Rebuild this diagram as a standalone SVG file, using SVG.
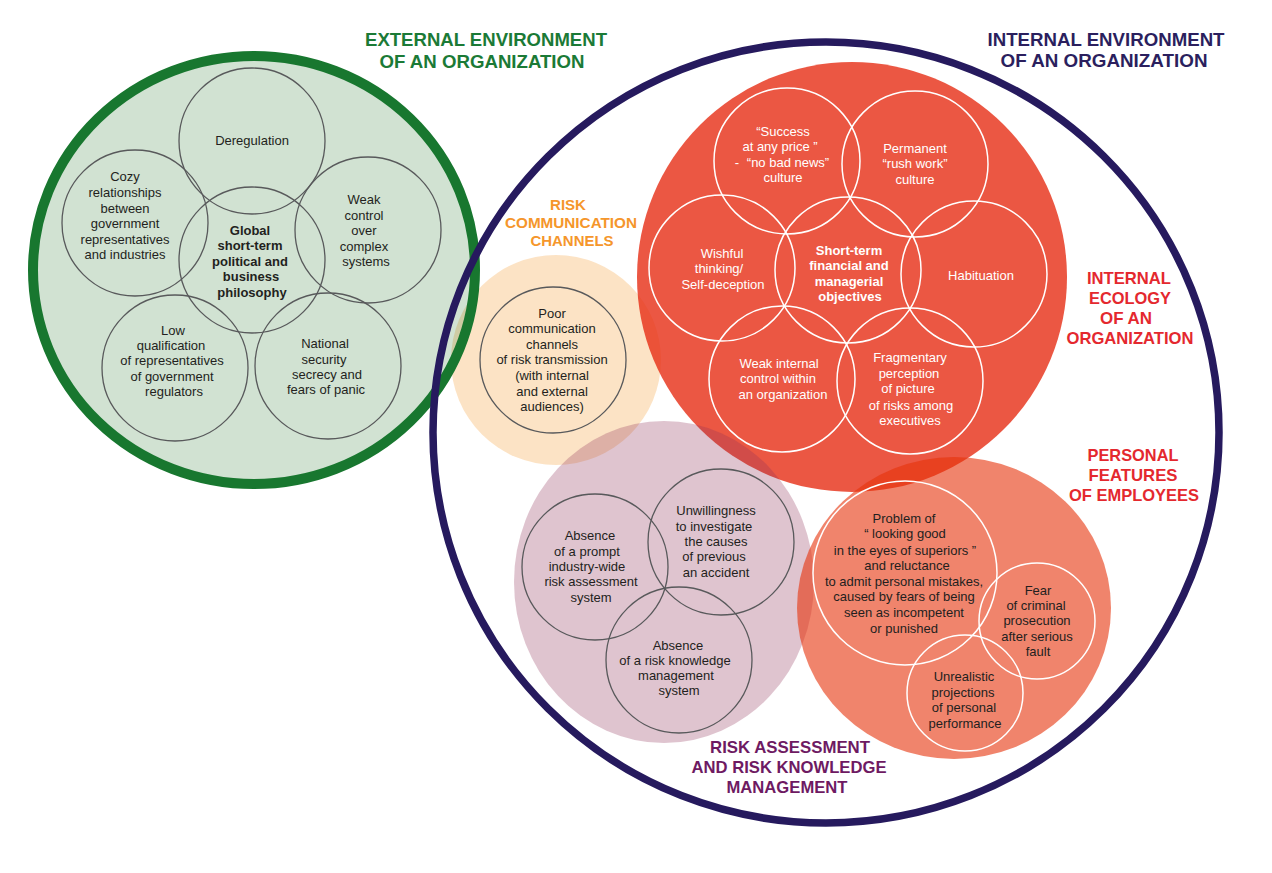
<svg xmlns="http://www.w3.org/2000/svg" width="1272" height="873" viewBox="0 0 1272 873">
<style>
.t{font-family:"Liberation Sans",Arial,Helvetica,sans-serif;font-size:13px;fill:#231f20;text-anchor:middle}
.w{fill:#ffffff}
.b{font-weight:bold}
.h{font-family:"Liberation Sans",Arial,Helvetica,sans-serif;font-weight:bold;text-anchor:middle}
.gc{fill:none;stroke:#58595b;stroke-width:1.3}
.wc{fill:none;stroke:#ffffff;stroke-width:1.5}
</style>
<rect width="1272" height="873" fill="#ffffff"/>

<!-- Risk communication channels -->
<g id="comm-region">
  <circle cx="556" cy="360" r="105" fill="#f39a2e" fill-opacity="0.28"/>
  <g id="poor-communication">
    <circle class="gc" cx="553" cy="360" r="73"/>
    <text class="t"><tspan x="552" y="317.5">Poor</tspan><tspan x="552" y="333">communication</tspan><tspan x="552" y="348.5">channels</tspan><tspan x="552" y="364">of risk transmission</tspan><tspan x="552" y="379.5">(with internal</tspan><tspan x="552" y="395.5">and external</tspan><tspan x="552" y="411">audiences)</tspan></text>
  </g>
</g>

<!-- External environment -->
<g id="external-region">
  <ellipse cx="254" cy="270" rx="221" ry="214" fill="#2e7d32" fill-opacity="0.22" stroke="#18772f" stroke-width="10"/>
  <g id="deregulation">
    <circle class="gc" cx="252" cy="141" r="73"/>
    <text class="t" x="252" y="145">Deregulation</text>
  </g>
  <g id="cozy">
    <circle class="gc" cx="135" cy="223" r="73"/>
    <text class="t"><tspan x="125" y="181">Cozy</tspan><tspan x="125" y="197">relationships</tspan><tspan x="125" y="213">between</tspan><tspan x="125" y="228">government</tspan><tspan x="125" y="244">representatives</tspan><tspan x="125" y="259">and industries</tspan></text>
  </g>
  <g id="weak-control">
    <circle class="gc" cx="368" cy="230" r="73"/>
    <text class="t"><tspan x="364" y="204">Weak</tspan><tspan x="364" y="220">control</tspan><tspan x="364" y="235">over</tspan><tspan x="364" y="251">complex</tspan><tspan x="366" y="266">systems</tspan></text>
  </g>
  <g id="global">
    <circle class="gc" cx="252" cy="260" r="73"/>
    <text class="t b"><tspan x="250" y="235">Global</tspan><tspan x="250" y="250">short-term</tspan><tspan x="250" y="266">political and</tspan><tspan x="251" y="281">business</tspan><tspan x="252" y="297">philosophy</tspan></text>
  </g>
  <g id="low-qualification">
    <circle class="gc" cx="175" cy="368" r="73"/>
    <text class="t"><tspan x="173" y="334.5">Low</tspan><tspan x="171" y="349.5">qualification</tspan><tspan x="172" y="364.5">of representatives</tspan><tspan x="172" y="380.5">of government</tspan><tspan x="174" y="395.5">regulators</tspan></text>
  </g>
  <g id="national-security">
    <circle class="gc" cx="328" cy="366" r="73"/>
    <text class="t"><tspan x="325" y="348">National</tspan><tspan x="324" y="363.5">security</tspan><tspan x="327" y="379">secrecy and</tspan><tspan x="326" y="394">fears of panic</tspan></text>
  </g>
</g>

<!-- Internal ecology -->
<g id="ecology-region">
  <circle cx="852" cy="277" r="215" fill="#e62d14" fill-opacity="0.8"/>
  <g id="success">
    <circle class="wc" cx="787" cy="161" r="73"/>
    <text class="t w"><tspan x="783" y="135.5">“Success</tspan><tspan x="780" y="150.5">at any price ”</tspan><tspan x="737" y="166.5">-</tspan><tspan x="788" y="166.5">“no bad news”</tspan><tspan x="783" y="181.5">culture</tspan></text>
  </g>
  <g id="permanent">
    <circle class="wc" cx="915" cy="164" r="73"/>
    <text class="t w"><tspan x="915" y="153">Permanent</tspan><tspan x="915" y="168">“rush work”</tspan><tspan x="915" y="184">culture</tspan></text>
  </g>
  <g id="wishful">
    <circle class="wc" cx="722" cy="268" r="73"/>
    <text class="t w"><tspan x="722" y="258">Wishful</tspan><tspan x="719" y="273">thinking/</tspan><tspan x="723" y="289">Self-deception</tspan></text>
  </g>
  <g id="short-term">
    <circle class="wc" cx="848" cy="270" r="73"/>
    <text class="t w b"><tspan x="849" y="255">Short-term</tspan><tspan x="849" y="270">financial and</tspan><tspan x="849" y="285.5">managerial</tspan><tspan x="850" y="301">objectives</tspan></text>
  </g>
  <g id="habituation">
    <circle class="wc" cx="974" cy="274" r="73"/>
    <text class="t w" x="981" y="279.5">Habituation</text>
  </g>
  <g id="weak-internal">
    <circle class="wc" cx="782" cy="379" r="73"/>
    <text class="t w"><tspan x="779" y="368">Weak internal</tspan><tspan x="778" y="383">control within</tspan><tspan x="783" y="399">an organization</tspan></text>
  </g>
  <g id="fragmentary">
    <circle class="wc" cx="910" cy="381" r="73"/>
    <text class="t w"><tspan x="910" y="362">Fragmentary</tspan><tspan x="909" y="378">perception</tspan><tspan x="908" y="393">of picture</tspan><tspan x="911" y="409.5">of risks among</tspan><tspan x="910" y="425">executives</tspan></text>
  </g>
</g>

<!-- Risk assessment -->
<g id="assessment-region">
  <ellipse cx="664" cy="582" rx="150" ry="161" fill="#91345a" fill-opacity="0.29"/>
  <g id="absence-prompt">
    <circle class="gc" cx="595" cy="567" r="73"/>
    <text class="t"><tspan x="590" y="540">Absence</tspan><tspan x="587" y="555.5">of a prompt</tspan><tspan x="587" y="571">industry-wide</tspan><tspan x="591" y="586">risk assessment</tspan><tspan x="591" y="602">system</tspan></text>
  </g>
  <g id="unwillingness">
    <circle class="gc" cx="721" cy="542" r="73"/>
    <text class="t"><tspan x="716" y="515">Unwillingness</tspan><tspan x="714" y="530.5">to investigate</tspan><tspan x="716" y="546">the causes</tspan><tspan x="714" y="561">of previous</tspan><tspan x="716" y="577">an accident</tspan></text>
  </g>
  <g id="absence-knowledge">
    <circle class="gc" cx="679" cy="660" r="73"/>
    <text class="t"><tspan x="678" y="649.5">Absence</tspan><tspan x="675" y="664.5">of a risk knowledge</tspan><tspan x="676" y="680">management</tspan><tspan x="679" y="695">system</tspan></text>
  </g>
</g>

<!-- Personal features -->
<g id="personal-region">
  <ellipse cx="954" cy="608" rx="157" ry="151" fill="#e6320a" fill-opacity="0.6"/>
  <g id="looking-good">
    <circle class="wc" cx="905" cy="573" r="92"/>
    <text class="t"><tspan x="904" y="523">Problem of</tspan><tspan x="905" y="538">“ looking good</tspan><tspan x="905" y="554.5">in the eyes of superiors ”</tspan><tspan x="907" y="570">and reluctance</tspan><tspan x="904" y="585.5">to admit personal mistakes,</tspan><tspan x="904" y="601">caused by fears of being</tspan><tspan x="904" y="617">seen as incompetent</tspan><tspan x="904" y="633">or punished</tspan></text>
  </g>
  <g id="fear">
    <circle class="wc" cx="1037" cy="621" r="58"/>
    <text class="t"><tspan x="1038" y="594.5">Fear</tspan><tspan x="1036" y="610">of criminal</tspan><tspan x="1037" y="625">prosecution</tspan><tspan x="1037" y="641">after serious</tspan><tspan x="1038" y="656">fault</tspan></text>
  </g>
  <g id="unrealistic">
    <circle class="wc" cx="965" cy="693" r="58"/>
    <text class="t"><tspan x="964" y="681">Unrealistic</tspan><tspan x="963" y="697">projections</tspan><tspan x="964" y="712">of personal</tspan><tspan x="965" y="728">performance</tspan></text>
  </g>
</g>

<!-- Internal environment outline -->
<g id="internal-environment">
  <ellipse cx="826" cy="432.5" rx="393" ry="390.5" fill="none" stroke="#261a5e" stroke-width="7.5"/>
</g>

<g id="connectors"></g>

<!-- Labels -->
<g id="labels">
  <text class="h" font-size="18.5" fill="#1b7a36"><tspan x="486" y="46" textLength="242" lengthAdjust="spacingAndGlyphs">EXTERNAL ENVIRONMENT</tspan><tspan x="482" y="68" textLength="205" lengthAdjust="spacingAndGlyphs">OF AN ORGANIZATION</tspan></text>
  <text class="h" font-size="18.5" fill="#2b1f5e"><tspan x="1106" y="46" textLength="237" lengthAdjust="spacingAndGlyphs">INTERNAL ENVIRONMENT</tspan><tspan x="1104" y="67" textLength="207" lengthAdjust="spacingAndGlyphs">OF AN ORGANIZATION</tspan></text>
  <text class="h" font-size="15" fill="#f5962b"><tspan x="568" y="210" textLength="36" lengthAdjust="spacingAndGlyphs">RISK</tspan><tspan x="571" y="228" textLength="132" lengthAdjust="spacingAndGlyphs">COMMUNICATION</tspan><tspan x="572" y="246" textLength="83" lengthAdjust="spacingAndGlyphs">CHANNELS</tspan></text>
  <text class="h" font-size="17" fill="#e4282e"><tspan x="1129" y="284" textLength="84" lengthAdjust="spacingAndGlyphs">INTERNAL</tspan><tspan x="1130" y="304" textLength="82" lengthAdjust="spacingAndGlyphs">ECOLOGY</tspan><tspan x="1126" y="324" textLength="52" lengthAdjust="spacingAndGlyphs">OF AN</tspan><tspan x="1130" y="344" textLength="127" lengthAdjust="spacingAndGlyphs">ORGANIZATION</tspan></text>
  <text class="h" font-size="17" fill="#e4282e"><tspan x="1133" y="461" textLength="91" lengthAdjust="spacingAndGlyphs">PERSONAL</tspan><tspan x="1133" y="481" textLength="89" lengthAdjust="spacingAndGlyphs">FEATURES</tspan><tspan x="1134" y="501" textLength="130" lengthAdjust="spacingAndGlyphs">OF EMPLOYEES</tspan></text>
  <text class="h" font-size="17" fill="#6e1a62"><tspan x="790" y="753" textLength="160" lengthAdjust="spacingAndGlyphs">RISK ASSESSMENT</tspan><tspan x="789" y="773" textLength="195" lengthAdjust="spacingAndGlyphs">AND RISK KNOWLEDGE</tspan><tspan x="787" y="793" textLength="121" lengthAdjust="spacingAndGlyphs">MANAGEMENT</tspan></text>
</g>
</svg>
